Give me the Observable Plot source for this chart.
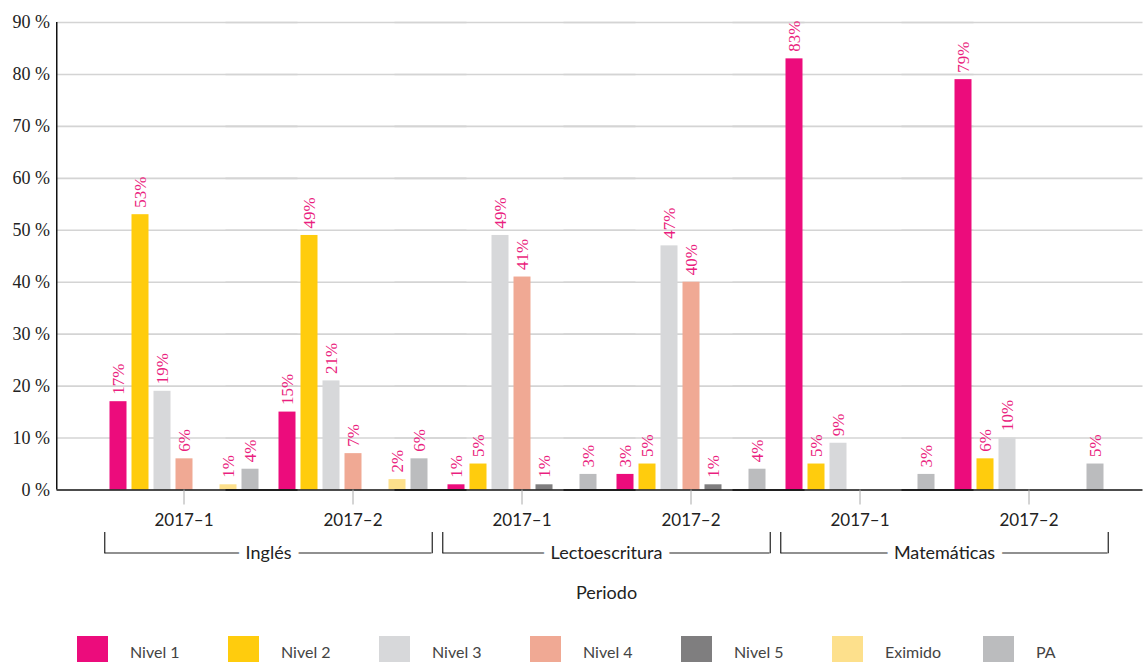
<!DOCTYPE html>
<html><head><meta charset="utf-8">
<script src="https://cdn.jsdelivr.net/npm/d3@7"></script>
<script src="https://cdn.jsdelivr.net/npm/@observablehq/plot@0.6"></script>
<style>
body{margin:0;background:#fff;font-family:Lato, sans-serif;}
#legend{display:flex;margin:21px 0 0 77px;}
.item{display:flex;align-items:center;width:151px;flex:none;}
.sw{width:31px;height:31px;margin-right:22px;flex:none;}
.lb{font-size:16px;color:#444;}
</style></head><body>
<div id="chart"></div><div id="legend"></div>
<script>
const subjects = ["Inglés", "Lectoescritura", "Matemáticas"];
const periods = ["2017–1", "2017–2"];
const levels = ["Nivel 1", "Nivel 2", "Nivel 3", "Nivel 4", "Nivel 5", "Eximido", "PA"];
const colors = ["#EC0C7C", "#FFCC0D", "#D7D8DA", "#F0A994", "#7F7E7F", "#FDE08C", "#BBBCBE"];
// values per level (Nivel 1..5, Eximido, PA); null = no bar
const ingles1 = [17, 53, 19, 6, null, 1, 4];
const ingles2 = [15, 49, 21, 7, null, 2, 6];
const lecto1 = [1, 5, 49, 41, 1, null, 3];
const lecto2 = [3, 5, 47, 40, 1, null, 4];
const mate1 = [83, 5, 9, null, null, null, 3];
const mate2 = [79, 6, 10, null, null, null, 5];
const yTicks = [0, 10, 20, 30, 40, 50, 60, 70, 80, 90];
const xLabel = "Periodo";

const series = [[ingles1, ingles2], [lecto1, lecto2], [mate1, mate2]];
const groups = subjects.flatMap(s => periods.map((p, i) => ({key: s + " " + p, subject: s, period: p, first: i === 0})));
const data = [];
subjects.forEach((s, si) => periods.forEach((p, pi) => levels.forEach((l, li) => {
  const v = series[si][pi][li];
  if (v != null) data.push({group: s + " " + p, subject: s, period: p, level: l, value: v});
})));
const periodOf = k => groups.find(g => g.key === k).period;
const firsts = groups.filter(g => g.first);
const seconds = groups.filter(g => !g.first);
const serif = "Liberation Serif, DejaVu Serif, serif";
const pink = "#ea1f80";

const chart = Plot.plot({
  width: 1144, height: 615,
  marginTop: 22, marginBottom: 125.5, marginLeft: 97.5, marginRight: 29.5,
  style: {fontFamily: "Lato, sans-serif", fontSize: "17px", color: "#222", background: "white"},
  facet: {marginTop: 0, marginBottom: 0, marginLeft: 0, marginRight: 0},
  fx: {domain: groups.map(g => g.key), paddingInner: 0, paddingOuter: 0, label: null},
  x: {domain: levels, paddingInner: 0.24, paddingOuter: 0.4, axis: null},
  y: {domain: [0, 90]},
  color: {domain: levels, range: colors},
  marks: [
    Plot.ruleY(yTicks.slice(1), {stroke: "#d4d4d4", strokeWidth: 1.6, insetLeft: -42.5, insetRight: -29.5}),
    Plot.barY(data, {fx: "group", x: "level", y: "value", fill: "level"}),
    Plot.text(data, {fx: "group", x: "level", y: "value", text: d => d.value + "%", rotate: -90,
      textAnchor: "start", lineAnchor: "middle", dy: -7, fill: pink, fontFamily: serif, fontSize: 17}),
    Plot.ruleY([0], {stroke: "#111", strokeWidth: 1.5, insetLeft: -42.5, insetRight: -29.5}),
    Plot.ruleX(groups.slice(0, 1), {fx: "key", x: null, dx: -127.25, stroke: "#111", strokeWidth: 1.5}),
    Plot.axisY({ticks: yTicks, tickSize: 0, tickPadding: 7, dx: -42.5, tickFormat: d => d + " %",
      fontFamily: serif, fontSize: 18, fill: "#222", label: null}),
    Plot.axisFx({anchor: "bottom", tickSize: 15, tickPadding: 9, stroke: "#aaa", fill: "#222", tickFormat: periodOf, fontSize: 17, label: null}),
    Plot.ruleY(firsts, {fx: "key", y: () => 0, dy: 63, insetLeft: 5.5, stroke: "#222", strokeWidth: 1.2}),
    Plot.ruleY(seconds, {fx: "key", y: () => 0, dy: 63, insetRight: 5.5, stroke: "#222", strokeWidth: 1.2}),
    Plot.ruleX(firsts, {fx: "key", x: null, dx: -79.25, insetTop: 510, insetBottom: -63.7, stroke: "#222", strokeWidth: 1.2}),
    Plot.ruleX(seconds, {fx: "key", x: null, dx: 79.25, insetTop: 510, insetBottom: -63.7, stroke: "#222", strokeWidth: 1.2}),
    Plot.text(firsts, {fx: "key", text: "subject", frameAnchor: "bottom-right", textAnchor: "middle", lineAnchor: "middle",
      dy: 63, fill: "#222", stroke: "white", strokeWidth: 16, fontSize: 18}),
    Plot.text([xLabel], {facet: "super", text: d => d, frameAnchor: "bottom", lineAnchor: "middle", dy: 103.5, fontSize: 18, fill: "#222"})
  ]
});
document.getElementById("chart").appendChild(chart);

const legend = document.getElementById("legend");
levels.forEach((l, i) => {
  const item = document.createElement("div");
  item.className = "item";
  item.innerHTML = `<div class="sw" style="background:${colors[i]}"></div><span class="lb">${l}</span>`;
  legend.appendChild(item);
});
</script>
</body></html>
